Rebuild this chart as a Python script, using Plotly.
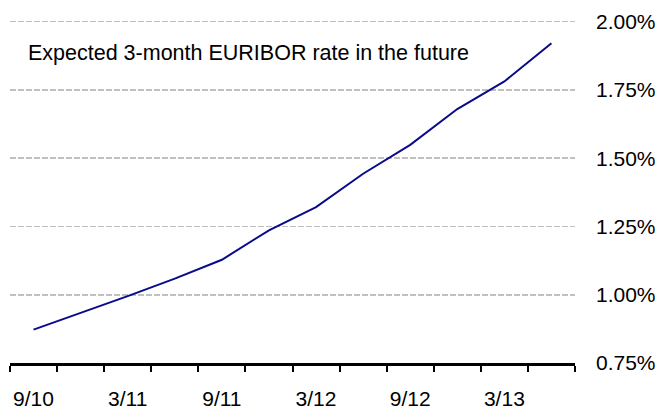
import plotly.graph_objects as go

quarters = ["9/10", "12/10", "3/11", "6/11", "9/11", "12/11",
            "3/12", "6/12", "9/12", "12/12", "3/13", "6/13"]
tick_text = ["9/10", "", "3/11", "", "9/11", "", "3/12", "", "9/12", "", "3/13", ""]
euribor = [0.872, 0.933, 0.995, 1.059, 1.128, 1.236,
           1.321, 1.443, 1.549, 1.680, 1.781, 1.921]
y_ticks = [0.75, 1.00, 1.25, 1.50, 1.75, 2.00]
y_tick_text = [f"{v:.2f}%" for v in y_ticks]
title_text = "Expected 3-month EURIBOR rate in the future"

FONT = "Arial, 'Liberation Sans', sans-serif"

fig = go.Figure()
fig.add_trace(go.Scatter(
    x=quarters, y=euribor, mode="lines",
    line=dict(color="#0a0a8c", width=2),
    showlegend=False, hoverinfo="skip",
))

fig.add_annotation(
    text=title_text, xref="paper", yref="paper",
    x=0.0283, y=0.905, xanchor="left", yanchor="middle",
    showarrow=False, font=dict(family=FONT, size=21.5, color="#000000"),
)

fig.update_layout(
    width=670, height=410,
    margin=dict(l=10, r=95, t=20, b=47),
    paper_bgcolor="white", plot_bgcolor="white",
    font=dict(family=FONT, size=21, color="#000000"),
    hovermode=False,
    xaxis=dict(
        type="category", range=[-0.5, 11.5], automargin=False,
        tickmode="array", tickvals=quarters, ticktext=tick_text, tickangle=0,
        tickson="boundaries", ticks="outside", ticklen=6, tickwidth=2,
        tickcolor="black", showline=True, linecolor="black", linewidth=3,
        showgrid=False, zeroline=False, ticklabelstandoff=15,
    ),
    yaxis=dict(
        side="right", range=[0.75, 2.006], automargin=False,
        tickmode="array", tickvals=y_ticks, ticktext=y_tick_text,
        showgrid=True, gridcolor="#c0c0c0", gridwidth=1.7, griddash="6px,2px",
        zeroline=False, showline=False, ticks="", ticklabelstandoff=20,
    ),
)

fig.write_html("out.html", config={"displayModeBar": False, "staticPlot": True},
               post_script="document.body.style.margin='0';")
